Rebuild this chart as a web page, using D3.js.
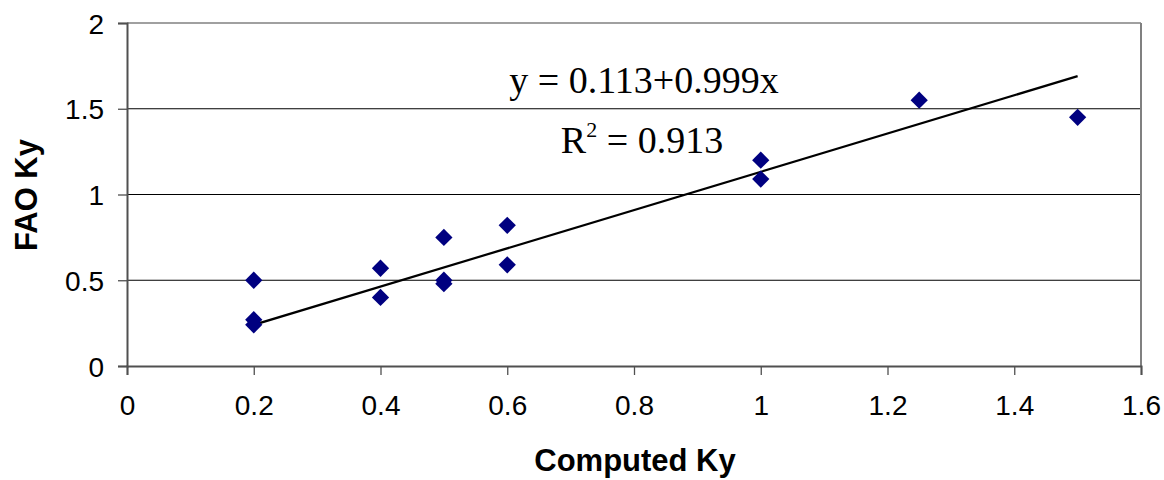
<!DOCTYPE html>
<html>
<head>
<meta charset="utf-8">
<script src="https://cdn.jsdelivr.net/npm/d3@7"></script>
<style>
body{margin:0;background:#fff;}
</style>
</head>
<body>
<div id="vis"></div>
<script>
// data
var computedKy = [0.2,0.2,0.2,0.4,0.4,0.5,0.5,0.5,0.6,0.6,1.0,1.0,1.25,1.5];
var faoKy      = [0.50,0.27,0.24,0.57,0.40,0.75,0.50,0.48,0.82,0.59,1.20,1.09,1.55,1.45];
// trend line as drawn (end points)
var trendX = [0.2, 1.5];
var trendY = [0.24, 1.69];
var xTicks = [0,0.2,0.4,0.6,0.8,1,1.2,1.4,1.6];
var yTicks = [0,0.5,1,1.5,2];
var eqText = "y = 0.113+0.999x";
var r2Text = "0.913";

var sans = "'Liberation Sans',Arial,sans-serif";
var serif = "'Liberation Serif','Times New Roman',serif";

var svg = d3.select("#vis").append("svg").attr("width",1164).attr("height",480)
    .style("font-family",sans);

var x = d3.scaleLinear().domain([0,1.6]).range([127,1141]);
var y = d3.scaleLinear().domain([0,2]).range([366,23]);

// grid lines
svg.selectAll("line.grid").data(yTicks.slice(1,4)).enter().append("line")
    .attr("x1",x(0)).attr("x2",x(1.6))
    .attr("y1",(d)=>y(d)).attr("y2",(d)=>y(d))
    .attr("stroke","#000").attr("stroke-width",1.2);
// plot border top / right
svg.append("line").attr("x1",x(0)).attr("x2",x(1.6)).attr("y1",y(2)).attr("y2",y(2))
    .attr("stroke","#808080").attr("stroke-width",1.5);
svg.append("line").attr("x1",x(1.6)).attr("x2",x(1.6)).attr("y1",y(2)).attr("y2",y(0))
    .attr("stroke","#808080").attr("stroke-width",2);

// axes
var xAxis = d3.axisBottom(x).tickValues(xTicks).tickSize(9).tickPadding(20).tickFormat(d3.format("~g"));
var yAxis = d3.axisLeft(y).tickValues(yTicks).tickSize(9).tickPadding(14).tickFormat(d3.format("~g"));
var gx = svg.append("g").attr("transform","translate(0,"+y(0)+")").call(xAxis);
var gy = svg.append("g").attr("transform","translate("+x(0)+",0)").call(yAxis);
[gx,gy].forEach(function(g){
    g.attr("font-family",null).attr("font-size",null);
    g.select(".domain").attr("stroke","#505050").attr("stroke-width",2);
    g.selectAll(".tick line").attr("stroke","#505050").attr("stroke-width",1.3);
    g.selectAll(".tick text").style("font-size","28px").style("font-family",sans).attr("fill","#000");
});
gy.selectAll(".tick text").attr("dy","0.36em");

// trend line
svg.append("line")
    .attr("x1",x(trendX[0])).attr("y1",y(trendY[0]))
    .attr("x2",x(trendX[1])).attr("y2",y(trendY[1]))
    .attr("stroke","#000").attr("stroke-width",2.2);

// markers
var diamond = d3.symbol().type(d3.symbolDiamond2).size(190);
svg.selectAll("path.pt").data(computedKy).enter().append("path")
    .attr("class","pt")
    .attr("d",diamond)
    .attr("transform",(d,i)=>"translate("+x(d)+","+y(faoKy[i])+")")
    .attr("fill","#000080");

// equation text
svg.append("text").attr("x",644).attr("y",93).attr("text-anchor","middle")
    .style("font-family",serif).style("font-size","38px")
    .text(eqText);
var r2 = svg.append("text").attr("x",642).attr("y",153).attr("text-anchor","middle")
    .style("font-family",serif).style("font-size","38px");
r2.append("tspan").text("R");
r2.append("tspan").style("font-size","22px").attr("dy",-16).text("2");
r2.append("tspan").attr("dy",16).text(" = "+r2Text);

// axis titles
svg.append("text").attr("x",635).attr("y",471).attr("text-anchor","middle")
    .style("font-weight","bold").style("font-size","31px").text("Computed Ky");
svg.append("text").attr("transform","translate(37,195) rotate(-90)").attr("text-anchor","middle")
    .style("font-weight","bold").style("font-size","31px").text("FAO Ky");
</script>
</body>
</html>
